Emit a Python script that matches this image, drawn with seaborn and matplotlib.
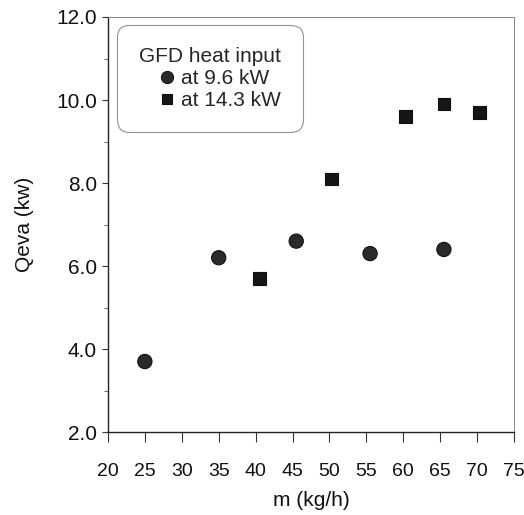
import matplotlib
matplotlib.use("Agg")
import matplotlib.pyplot as plt
import seaborn as sns
import pandas as pd
from matplotlib.ticker import MultipleLocator, FormatStrFormatter

sns.set_theme(style="white")
plt.rcParams['font.family'] = ['Liberation Sans', 'DejaVu Sans']

m_low = [25, 35, 45.5, 55.5, 65.5]
q_low = [3.7, 6.2, 6.6, 6.3, 6.4]
m_high = [40.5, 50.3, 60.3, 65.5, 70.3]
q_high = [5.7, 8.1, 9.6, 9.9, 9.7]
series = ["at 9.6 kW", "at 14.3 kW"]

df = pd.DataFrame({
    "m": m_low + m_high,
    "q": q_low + q_high,
    "s": [series[0]] * len(m_low) + [series[1]] * len(m_high),
})

fig = plt.figure(figsize=(5.24, 5.15), dpi=100)
ax = fig.add_axes([0.206, 0.161, 0.775, 0.806])

sns.scatterplot(data=df, x="m", y="q", hue="s", style="s", size="s",
                markers={series[0]: "o", series[1]: "s"},
                sizes={series[0]: 105, series[1]: 80},
                palette={series[0]: "#2a2a2a", series[1]: "#161616"},
                edgecolor="#111111", linewidth=0.8, ax=ax, legend=True)

ax.set_xlim(20, 75)
ax.set_ylim(2, 12)
ax.xaxis.set_major_locator(MultipleLocator(5))
ax.yaxis.set_major_locator(MultipleLocator(2))
ax.yaxis.set_minor_locator(MultipleLocator(1))
ax.yaxis.set_major_formatter(FormatStrFormatter("%.1f"))
ax.tick_params(axis="both", which="major", direction="out", width=0.8,
               color="#333333", labelcolor="#111111",
               bottom=True, left=True)
ax.tick_params(axis="x", which="major", length=7, pad=15, labelsize=14)
ax.tick_params(axis="y", which="major", length=4.5, pad=3.5, labelsize=15)
ax.tick_params(axis="y", which="minor", direction="out", length=3, width=0.6,
               color="#555555", left=True)
for side in ["left", "bottom"]:
    ax.spines[side].set_color("#222222")
    ax.spines[side].set_linewidth(1.0)
for side in ["top", "right"]:
    ax.spines[side].set_color("#888888")
    ax.spines[side].set_linewidth(0.7)

ax.set_xlabel("m (kg/h)", fontsize=15, color="#111111", labelpad=8)
ax.set_ylabel("Qeva (kw)", fontsize=15, color="#111111", labelpad=16)

handles, labels = ax.get_legend_handles_labels()
leg = ax.legend(handles, labels, title="GFD heat input", loc="upper left",
                bbox_to_anchor=(0.022, 0.981), borderaxespad=0,
                fontsize=15, title_fontsize=15,
                frameon=True, fancybox=True, edgecolor="#777777",
                handletextpad=0.15, borderpad=1.05, labelspacing=0.15,
                handlelength=1.0, markerscale=0.85)
leg.get_frame().set_linewidth(0.8)
leg.get_frame().set_boxstyle("round,pad=0,rounding_size=0.6")
leg._legend_box.align = "right"

fig.savefig("out.png", dpi=100, facecolor="white")
